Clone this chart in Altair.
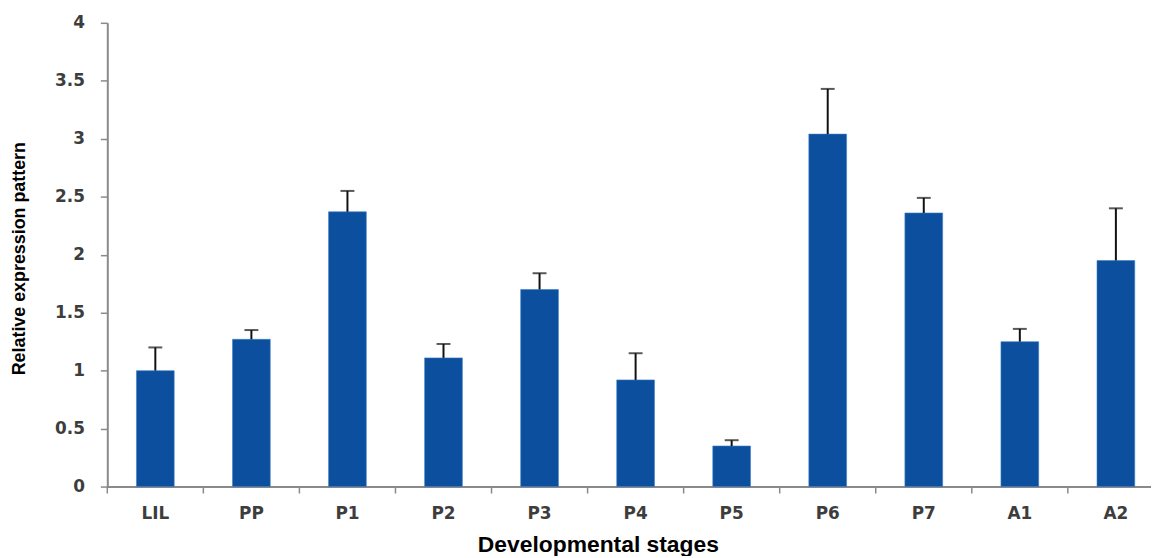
import altair as alt
import pandas as pd

stages = ["LIL", "PP", "P1", "P2", "P3", "P4", "P5", "P6", "P7", "A1", "A2"]
means = [1.00, 1.27, 2.37, 1.11, 1.70, 0.92, 0.35, 3.04, 2.36, 1.25, 1.95]
upper = [1.20, 1.35, 2.55, 1.23, 1.84, 1.15, 0.40, 3.43, 2.49, 1.36, 2.40]
y_ticks = [0, 0.5, 1, 1.5, 2, 2.5, 3, 3.5, 4]

df = pd.DataFrame({"stage": stages, "mean": means, "upper": upper})
ticks_df = pd.DataFrame({"stage": stages})

PLOT_W = 1043
PLOT_H = 467
RANGE = [0, 1064]
PI = 0.607
BAR = "#0B4F9E"
AXIS = "#8a8a8a"
LABEL = "#3d3d3d"

xscale = alt.Scale(domain=stages, range=RANGE, paddingInner=PI, paddingOuter=PI / 2)
yscale = alt.Scale(domain=[0, 4], nice=False)

x_enc = alt.X(
    "stage:N",
    scale=xscale,
    sort=stages,
    axis=alt.Axis(
        title="Developmental stages",
        ticks=False,
        domain=True,
        domainColor=AXIS,
        domainWidth=2,
        labelAngle=0,
        labelFont="DejaVu Sans",
        labelFontWeight="bold",
        labelFontSize=17,
        labelColor=LABEL,
        labelPadding=19,
        titleFont="Liberation Sans",
        titleFontWeight="bold",
        titleFontSize=23,
        titleColor="#000000",
        titleX=494,
        titleY=65,
        titleAnchor="middle",
        titleBaseline="alphabetic",
    ),
)

y_axis = alt.Axis(
    title="Relative expression pattern",
    values=y_ticks,
    format="~g",
    grid=False,
    domain=True,
    domainColor=AXIS,
    domainWidth=2,
    ticks=True,
    tickColor=AXIS,
    tickSize=7,
    tickWidth=1.5,
    labelFont="DejaVu Sans",
    labelFontWeight="bold",
    labelFontSize=17,
    labelColor=LABEL,
    labelPadding=16,
    titleFont="Liberation Sans",
    titleFontWeight="bold",
    titleFontSize=18,
    titleColor="#000000",
    titleAngle=270,
    titleAlign="center",
    titleBaseline="middle",
    titleX=-88,
    titleY=237,
)

bars = alt.Chart(df).mark_bar(color=BAR, stroke="#3f7fc8", strokeWidth=0.6).encode(
    x=x_enc,
    y=alt.Y("mean:Q", scale=yscale, axis=y_axis),
)

err = alt.Chart(df).mark_rule(color="#111111", strokeWidth=2).encode(
    x=alt.X("stage:N", scale=xscale, sort=stages, axis=None),
    y=alt.Y("mean:Q", scale=yscale),
    y2="upper:Q",
)

caps = alt.Chart(df).mark_tick(color="#111111", size=14, thickness=2, orient="horizontal").encode(
    x=alt.X("stage:N", scale=xscale, sort=stages, axis=None),
    y=alt.Y("upper:Q", scale=yscale),
)

xticks = alt.Chart(ticks_df).mark_rule(color=AXIS, strokeWidth=1.5).encode(
    x=alt.X(
        "stage:N",
        scale=alt.Scale(domain=stages, range=RANGE, paddingInner=0, paddingOuter=0),
        sort=stages,
        bandPosition=0,
        axis=None,
    ),
    y=alt.value(PLOT_H),
    y2=alt.value(PLOT_H + 7),
)

chart = (
    alt.layer(bars, err, caps, xticks)
    .resolve_scale(x="independent")
    .properties(
        width=PLOT_W,
        height=PLOT_H,
        background="#ffffff",
        autosize=alt.AutoSizeParams(type="none"),
        padding={"left": 100, "top": 13, "right": 8, "bottom": 68},
    )
    .configure_view(strokeWidth=0, stroke="transparent")
)

chart.save("out.html", embed_options={"renderer": "svg", "actions": False})
